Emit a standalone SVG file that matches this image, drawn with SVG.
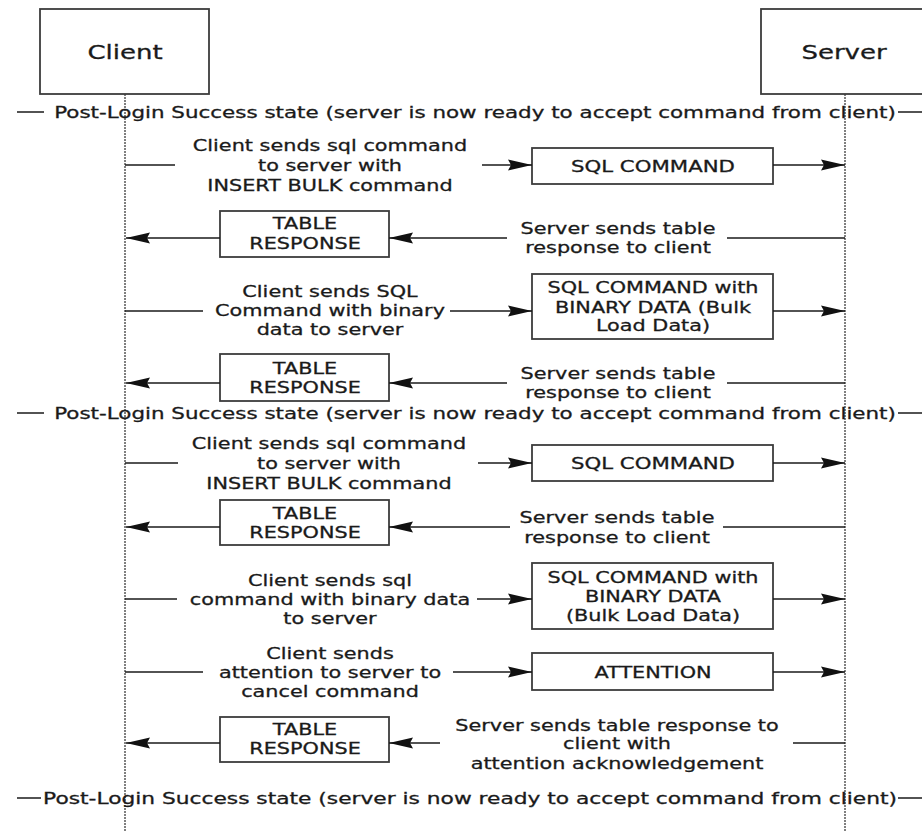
<svg xmlns="http://www.w3.org/2000/svg" width="922" height="831" viewBox="0 0 922 831">
<style>
text{font-family:"DejaVu Sans","Verdana",sans-serif;font-size:16px;fill:#1a1a1a;stroke:#1a1a1a;stroke-width:0.3;text-anchor:middle}
.big{font-size:20px}
.box{fill:#fff;stroke:#3c3c3c;stroke-width:1.8}
.ln{stroke:#1a1a1a;stroke-width:1.5;fill:none}
.arr{stroke:#1a1a1a;stroke-width:1.5;fill:none;marker-end:url(#ah)}
.life{stroke:#808080;stroke-width:2;stroke-dasharray:2 1;fill:none}
</style>
<defs>
<marker id="ah" markerUnits="userSpaceOnUse" markerWidth="24" markerHeight="12" refX="24" refY="6" orient="auto">
<path d="M0,0.5 L24,6 L0,11.5 L3,6 z" fill="#111"/>
</marker>
</defs>
<rect width="922" height="831" fill="#fff"/>

<g id="lifelines">
<line class="life" x1="125" y1="94" x2="125" y2="831"/>
<line class="life" x1="845" y1="94" x2="845" y2="831"/>
</g>

<g id="client">
<rect class="box" x="40" y="9" width="169" height="85"/>
<g transform="translate(125 0) scale(1.3 1)"><text class="big" y="59">Client</text></g>
</g>
<g id="server">
<rect class="box" x="761" y="9" width="170" height="85"/>
<g transform="translate(844 0) scale(1.3 1)"><text class="big" y="59">Server</text></g>
</g>

<g id="state1">
<g transform="translate(475 0) scale(1.34 1)"><text y="118">Post-Login Success state (server is now ready to accept command from client)</text></g>
</g>
<g id="state2">
<g transform="translate(475 0) scale(1.34 1)"><text y="419">Post-Login Success state (server is now ready to accept command from client)</text></g>
</g>
<g id="state3">
<g transform="translate(470 0) scale(1.36 1)"><text y="804">Post-Login Success state (server is now ready to accept command from client)</text></g>
</g>

<g id="msg1-label">
<g transform="translate(330 0) scale(1.3 1)">
<text y="151">Client sends sql command</text><text y="171">to server with</text><text y="191">INSERT BULK command</text>
</g>
</g>
<g id="sql-command-1">
<rect class="box" x="532" y="148" width="241" height="36"/>
<g transform="translate(653 0) scale(1.33 1)"><text y="172">SQL COMMAND</text></g>
</g>

<g id="msg2-label">
<g transform="translate(618 0) scale(1.3 1)"><text y="234">Server sends table</text><text y="253">response to client</text></g>
</g>
<g id="table-response-1">
<rect class="box" x="220" y="211" width="169" height="46"/>
<g transform="translate(305 0) scale(1.3 1)"><text y="229">TABLE</text><text y="249">RESPONSE</text></g>
</g>

<g id="msg3-label">
<g transform="translate(330 0) scale(1.3 1)">
<text y="297">Client sends SQL</text><text y="316">Command with binary</text><text y="335">data to server</text>
</g>
</g>
<g id="sql-binary-1">
<rect class="box" x="532" y="274" width="241" height="65"/>
<g transform="translate(653 0) scale(1.3 1)"><text y="293">SQL COMMAND with</text><text y="313">BINARY DATA (Bulk</text><text y="331">Load Data)</text></g>
</g>

<g id="msg4-label">
<g transform="translate(618 0) scale(1.3 1)"><text y="379">Server sends table</text><text y="398">response to client</text></g>
</g>
<g id="table-response-2">
<rect class="box" x="220" y="354" width="169" height="47"/>
<g transform="translate(305 0) scale(1.3 1)"><text y="374">TABLE</text><text y="393">RESPONSE</text></g>
</g>

<g id="msg5-label">
<g transform="translate(329 0) scale(1.3 1)">
<text y="449">Client sends sql command</text><text y="469">to server with</text><text y="489">INSERT BULK command</text>
</g>
</g>
<g id="sql-command-2">
<rect class="box" x="532" y="445" width="241" height="36"/>
<g transform="translate(653 0) scale(1.33 1)"><text y="469">SQL COMMAND</text></g>
</g>

<g id="msg6-label">
<g transform="translate(617 0) scale(1.3 1)"><text y="523">Server sends table</text><text y="543">response to client</text></g>
</g>
<g id="table-response-3">
<rect class="box" x="220" y="500" width="169" height="45"/>
<g transform="translate(305 0) scale(1.3 1)"><text y="519">TABLE</text><text y="538">RESPONSE</text></g>
</g>

<g id="msg7-label">
<g transform="translate(330 0) scale(1.3 1)">
<text y="586">Client sends sql</text><text y="605">command with binary data</text><text y="624">to server</text>
</g>
</g>
<g id="sql-binary-2">
<rect class="box" x="532" y="563" width="241" height="66"/>
<g transform="translate(653 0) scale(1.3 1)"><text y="583">SQL COMMAND with</text><text y="602">BINARY DATA</text><text y="621">(Bulk Load Data)</text></g>
</g>

<g id="msg8-label">
<g transform="translate(330 0) scale(1.3 1)">
<text y="659">Client sends</text><text y="678">attention to server to</text><text y="697">cancel command</text>
</g>
</g>
<g id="attention">
<rect class="box" x="532" y="653" width="241" height="37"/>
<g transform="translate(653 0) scale(1.3 1)"><text y="678">ATTENTION</text></g>
</g>

<g id="msg9-label">
<g transform="translate(617 0) scale(1.3 1)"><text y="731">Server sends table response to</text><text y="749">client with</text><text y="769">attention acknowledgement</text></g>
</g>
<g id="table-response-4">
<rect class="box" x="220" y="717" width="169" height="45"/>
<g transform="translate(305 0) scale(1.3 1)"><text y="735">TABLE</text><text y="754">RESPONSE</text></g>
</g>

<g id="connectors">
<line class="ln" x1="17" y1="112" x2="44" y2="112"/>
<line class="ln" x1="898" y1="112" x2="922" y2="112"/>
<line class="ln" x1="17" y1="413" x2="44" y2="413"/>
<line class="ln" x1="898" y1="413" x2="922" y2="413"/>
<line class="ln" x1="17" y1="798" x2="41" y2="798"/>
<line class="ln" x1="898" y1="798" x2="922" y2="798"/>

<line class="ln" x1="125" y1="165" x2="175" y2="165"/>
<line class="arr" x1="482" y1="165" x2="532" y2="165"/>
<line class="arr" x1="773" y1="165" x2="845" y2="165"/>

<line class="ln" x1="845" y1="238" x2="727" y2="238"/>
<line class="arr" x1="507" y1="238" x2="389" y2="238"/>
<line class="arr" x1="220" y1="238" x2="126" y2="238"/>

<line class="ln" x1="125" y1="311" x2="203" y2="311"/>
<line class="arr" x1="450" y1="311" x2="532" y2="311"/>
<line class="arr" x1="773" y1="311" x2="845" y2="311"/>

<line class="ln" x1="845" y1="383" x2="727" y2="383"/>
<line class="arr" x1="507" y1="383" x2="389" y2="383"/>
<line class="arr" x1="220" y1="383" x2="126" y2="383"/>

<line class="ln" x1="125" y1="463" x2="178" y2="463"/>
<line class="arr" x1="478" y1="463" x2="532" y2="463"/>
<line class="arr" x1="773" y1="463" x2="845" y2="463"/>

<line class="ln" x1="845" y1="527" x2="723" y2="527"/>
<line class="arr" x1="510" y1="527" x2="389" y2="527"/>
<line class="arr" x1="220" y1="527" x2="126" y2="527"/>

<line class="ln" x1="125" y1="599" x2="177" y2="599"/>
<line class="arr" x1="477" y1="599" x2="532" y2="599"/>
<line class="arr" x1="773" y1="599" x2="845" y2="599"/>

<line class="ln" x1="125" y1="672" x2="203" y2="672"/>
<line class="arr" x1="453" y1="672" x2="532" y2="672"/>
<line class="arr" x1="773" y1="672" x2="845" y2="672"/>

<line class="ln" x1="845" y1="743" x2="793" y2="743"/>
<line class="arr" x1="440" y1="743" x2="389" y2="743"/>
<line class="arr" x1="220" y1="743" x2="126" y2="743"/>
</g>
</svg>
